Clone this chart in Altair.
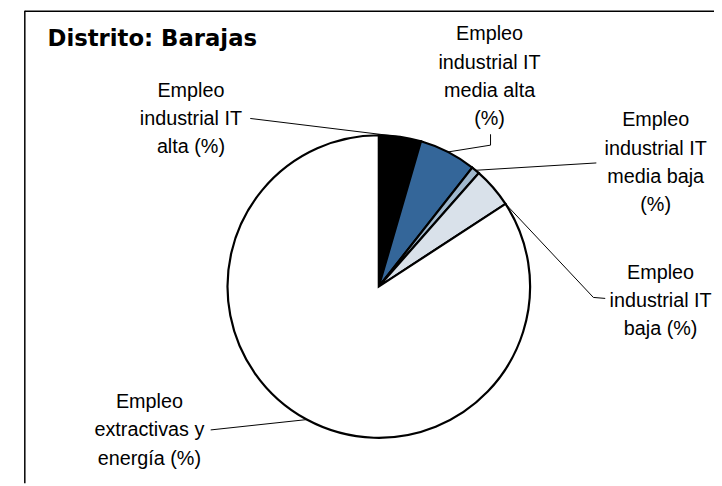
import math
import altair as alt
import pandas as pd

# ---- data ----
categories = [
    "Empleo industrial IT alta (%)",
    "Empleo industrial IT media alta (%)",
    "Empleo industrial IT media baja (%)",
    "Empleo industrial IT baja (%)",
    "Empleo extractivas y energía (%)",
]
values = [4.5, 6.1, 0.9, 4.3, 84.2]
label_lines = [
    ["Empleo", "industrial IT", "alta (%)"],
    ["Empleo", "industrial IT", "media alta", "(%)"],
    ["Empleo", "industrial IT", "media baja", "(%)"],
    ["Empleo", "industrial IT", "baja (%)"],
    ["Empleo", "extractivas y", "energía (%)"],
]
title_text = "Distrito: Barajas"

# ---- styles / layout ----
colors = ["#000000", "#346699", "#A0B8CD", "#D9E1EA", "#FFFFFF"]
W, H = 714, 478
OFF = 8  # page margin
CX, CY, R = 383 - OFF, 287 - OFF, 153
FONT = "Liberation Sans"
FS = 20
LH = 28.5
# label block: centre x, first line baseline y (page coords)
label_pos = [(193, 95), (495, 38), (663, 125), (668, 279), (151, 410)]
# leader polylines label-side points (page coords)
leader_pts = [
    [(253, 117)],
    [(496, 133), (496, 144)],
    [(603, 162)],
    [(612, 299), (600, 298)],
    [(213, 432)],
]
attach_frac = [0.5, 0.5, 0.5, 1.0, 0.5]

total = sum(values)
pie_df = pd.DataFrame({"category": categories, "value": values,
                       "order": list(range(len(values)))})

# text rows
trows = []
for i, lines in enumerate(label_lines):
    lx, ly = label_pos[i]
    for j, t in enumerate(lines):
        trows.append({"label": i, "text": t, "x": lx - OFF, "y": ly - OFF + j * LH})
text_df = pd.DataFrame(trows)

# leader rows: label-side points + pie attach point from data
lrows = []
cum = 0.0
for i, v in enumerate(values):
    ang = (cum + attach_frac[i] * v) / total * 2 * math.pi
    cum += v
    seq = 0
    for (px, py) in leader_pts[i]:
        lrows.append({"label": i, "seq": seq, "x": px - OFF, "y": py - OFF})
        seq += 1
    lrows.append({"label": i, "seq": seq,
                  "x": CX + R * math.sin(ang), "y": CY - R * math.cos(ang)})
lead_df = pd.DataFrame(lrows)

xs = alt.Scale(domain=[0, W], nice=False, zero=False)
ys = alt.Scale(domain=[0, H], nice=False, zero=False, reverse=True)

pie = alt.Chart(pie_df).mark_arc(radius=R, stroke="black", strokeWidth=2.2).encode(
    theta=alt.Theta("value:Q", stack=True),
    color=alt.Color("category:N", scale=alt.Scale(domain=categories, range=colors), legend=None),
    order=alt.Order("order:Q"),
    x=alt.value(CX),
    y=alt.value(CY),
)

leaders = alt.Chart(lead_df).mark_line(color="black", strokeWidth=1).encode(
    x=alt.X("x:Q", scale=xs, axis=None),
    y=alt.Y("y:Q", scale=ys, axis=None),
    detail="label:N",
    order="seq:Q",
)

labels = alt.Chart(text_df).mark_text(
    font=FONT, fontSize=FS, color="black", align="center", baseline="alphabetic"
).encode(
    x=alt.X("x:Q", scale=xs, axis=None),
    y=alt.Y("y:Q", scale=ys, axis=None),
    text="text:N",
)

title = alt.Chart(pd.DataFrame({"t": [title_text]})).mark_text(
    font="DejaVu Sans", fontSize=23, fontWeight="bold", color="black",
    align="left", baseline="alphabetic"
).encode(x=alt.value(48 - OFF), y=alt.value(44 - OFF), text="t:N")

frame_left = alt.Chart(pd.DataFrame({"a": [0]})).mark_rule(color="black", strokeWidth=1.5).encode(
    x=alt.value(17), y=alt.value(0), y2=alt.value(H))
frame_top = alt.Chart(pd.DataFrame({"a": [0]})).mark_rule(color="black", strokeWidth=1.5).encode(
    x=alt.value(17), x2=alt.value(W), y=alt.value(0.5))

chart = alt.layer(frame_left, frame_top, pie, leaders, labels, title).properties(
    width=W, height=H, autosize="none", padding=0
).configure_view(stroke=None)

chart.save("out.html", embed_options={"renderer": "svg", "actions": False})
